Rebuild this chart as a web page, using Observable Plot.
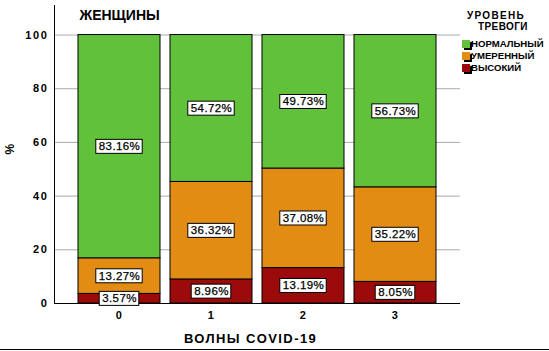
<!DOCTYPE html>
<html><head><meta charset="utf-8">
<script src="https://cdn.jsdelivr.net/npm/d3@7"></script>
<script src="https://cdn.jsdelivr.net/npm/@observablehq/plot@0.6"></script>
<style>
body{margin:0;background:#fff;}
#wrap{position:relative;width:549px;height:351px;overflow:hidden;font-family:"Liberation Sans",Arial,sans-serif;background:#fff;}
#wrap svg{position:absolute;left:0;top:0;}
.lg{position:absolute;font-weight:bold;font-size:10px;line-height:10px;height:10px;white-space:nowrap;color:#000;}
.sw{position:absolute;width:8px;height:8px;box-shadow:2px 2px 0 #000;}
#bottomline{position:absolute;left:0;top:349px;width:549px;height:1px;background:#000;}
.axt text{letter-spacing:1.6px;}
</style></head><body><div id="wrap"></div>
<script>
const waves = ["0", "1", "2", "3"];
const levels = ["ВЫСОКИЙ", "УМЕРЕННЫЙ", "НОРМАЛЬНЫЙ"];
const high = [3.57, 8.96, 13.19, 8.05];
const moderate = [13.27, 36.32, 37.08, 35.22];
const normal = [83.16, 54.72, 49.73, 56.73];
const colors = ["#9c0b0b", "#e38c14", "#62c13a"];
const yTicks = [0, 20, 40, 60, 80, 100];
const titleText = "ЖЕНЩИНЫ";
const xLabel = "ВОЛНЫ COVID-19";
const yLabel = "%";
const legendTitle = ["УРОВЕНЬ", "ТРЕВОГИ"];

const series = [high, moderate, normal];
const rows = [];
waves.forEach((w, i) => series.forEach((s, j) => rows.push({wave: w, level: levels[j], value: s[i]})));

const chart = Plot.plot({
  width: 549, height: 351,
  marginLeft: 54, marginRight: 89, marginTop: 5, marginBottom: 48,
  style: {fontFamily: '"Liberation Sans", Arial, sans-serif', fontSize: "11px", fontWeight: "bold", background: "white", color: "black"},
  x: {domain: waves, paddingInner: 0.109, paddingOuter: 0.261, label: null, axis: null},
  y: {domain: [0, 111], label: null, axis: null},
  color: {domain: levels, range: colors},
  marks: [
    Plot.gridY(yTicks.slice(1), {stroke: "#aaa", strokeOpacity: 1}),
    Plot.barY(rows, {x: "wave", y: "value", fill: "level", order: levels, stroke: "black", strokeWidth: 1}),
    Plot.axisY({ticks: yTicks, tickSize: 0, tickPadding: 6, label: null, className: "axt", fontSize: 11}),
    Plot.axisX({tickSize: 0, tickPadding: 8, label: null, className: "axt", fontSize: 11}),
    Plot.ruleY([0], {stroke: "black"}),
    Plot.frame({anchor: "left", stroke: "black"}),
    Plot.text(rows, Plot.stackY({x: "wave", y: "value", z: "level", order: levels,
      text: d => d.value.toFixed(2) + "%", fontSize: 11.5, fontWeight: "normal", fill: "black", className: "seglabel"})),
    Plot.text([titleText], {frameAnchor: "top-left", textAnchor: "start", lineAnchor: "middle", dx: 25, dy: 10, fontSize: 14, fontWeight: "bold", fill: "black"}),
    Plot.text([xLabel], {frameAnchor: "bottom", lineAnchor: "middle", dx: -7, dy: 35, fontSize: 13, fontWeight: "bold", fill: "black", className: "xlab"}),
    Plot.text([yLabel], {frameAnchor: "left", lineAnchor: "middle", rotate: -90, dx: -44, fontSize: 12, fontWeight: "bold", fill: "black"})
  ]
});

const wrap = document.getElementById("wrap");
wrap.appendChild(chart);
chart.querySelectorAll(".xlab text, text.xlab").forEach(t => t.style.letterSpacing = "1.4px");
// white boxes behind segment labels
const groups = chart.querySelectorAll(".seglabel");
groups.forEach(g => {
  const texts = g.tagName.toLowerCase() === "text" ? [g] : Array.from(g.querySelectorAll("text"));
  texts.forEach(t => {
    t.style.letterSpacing = "0.4px";
    t.style.stroke = "black";
    t.style.strokeWidth = "0.25px";
    const b = t.getBBox();
    const r = document.createElementNS("http://www.w3.org/2000/svg", "rect");
    const tr = t.getAttribute("transform");
    if (tr) r.setAttribute("transform", tr);
    r.setAttribute("x", b.x - 3);
    r.setAttribute("y", b.y - 1);
    r.setAttribute("width", b.width + 5);
    r.setAttribute("height", b.height + 2);
    r.setAttribute("fill", "white");
    r.setAttribute("stroke", "black");
    r.setAttribute("stroke-width", 1);
    t.parentNode.insertBefore(r, t);
  });
});
// legend
function addDiv(cls, css, text) {
  const d = document.createElement("div");
  d.className = cls;
  Object.assign(d.style, css);
  if (text) d.textContent = text;
  wrap.appendChild(d);
  return d;
}
addDiv("lg", {left: "467px", top: "11px", letterSpacing: "1.3px"}, legendTitle[0]);
addDiv("lg", {left: "478px", top: "22px", letterSpacing: "0.4px"}, legendTitle[1]);
const order = [2, 1, 0];
order.forEach((k, i) => {
  addDiv("sw", {left: "462px", top: (40 + i * 12) + "px", background: colors[k]});
  addDiv("lg", {left: "471px", top: (39 + i * 12) + "px", fontSize: "9.6px", letterSpacing: "0px"}, levels[k]);
});
addDiv("", {}, "").id = "bottomline";
</script></body></html>
